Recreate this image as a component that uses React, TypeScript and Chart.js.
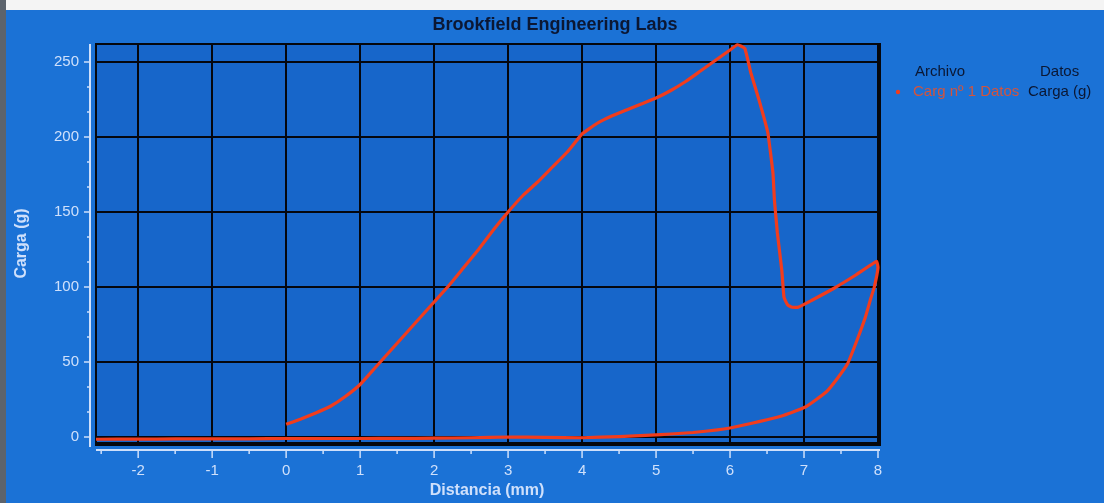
import React, { useEffect, useRef } from "react";
import { Chart, registerables } from "chart.js";

Chart.register(...registerables);

// Load (g) against probe travel (mm): compression up to 8 mm, then withdrawal back to the start.
const distancia: number[] = [
  0, 0.2, 0.4, 0.6, 0.8, 1.0, 1.2, 1.4, 1.6, 1.8,
  2.0, 2.2, 2.4, 2.6, 2.8, 3.0, 3.2, 3.4, 3.6, 3.8,
  4.0, 4.2, 4.4, 4.6, 4.8, 5.0, 5.2, 5.4, 5.6, 5.8,
  6.0, 6.1, 6.2, 6.28, 6.39, 6.51, 6.58, 6.6, 6.64, 6.7,
  6.73, 6.78, 6.84, 6.92, 7.1, 7.4, 7.7, 7.98,
  8.0, 7.95, 7.9, 7.83, 7.72, 7.59, 7.45, 7.3, 7.02, 6.73,
  6.5, 6.28, 6.0, 5.83, 5.5, 5.2, 4.93, 4.5, 4.0, 3.5,
  3.0, 2.5, 2.0, 1.5, 1.0, 0.5, 0, -0.5, -1.0, -1.5,
  -2.0, -2.57,
];

const carga: number[] = [
  8.5, 12, 16, 20.5, 27, 35, 46, 57, 68, 79,
  90, 101, 113, 125, 138, 150, 161, 170, 180, 190,
  202, 209, 214, 218, 222, 226, 231, 237, 244, 251,
  258, 261.5, 259, 243, 225, 203, 176, 158, 136, 111,
  93, 88, 86.5, 86.5, 91, 99, 108, 117,
  113, 100, 92, 80, 65, 49, 39, 30, 20, 14.5,
  11.5, 9, 6, 4.7, 3, 2, 1.3, 0.3, -0.5, -0.3,
  0, -0.5, -0.8, -0.9, -1, -1, -1, -1.2, -1.2, -1.3,
  -1.4, -1.5,
];

const xTicks: number[] = [-2, -1, 0, 1, 2, 3, 4, 5, 6, 7, 8];
const yTicks: number[] = [0, 50, 100, 150, 200, 250];

const titulo = "Brookfield Engineering Labs";
const tituloX = "Distancia (mm)";
const tituloY = "Carga (g)";
const leyendaArchivo = "Archivo";
const leyendaDatos = "Datos";
const serieArchivo = "Carg nº 1 Datos";
const serieDatos = "Carga (g)";

const W = 1098;
const H = 493;
const FONT = "'Liberation Sans', Arial, sans-serif";
const BG = "#1b72d6";
const PLOT_BG = "#1766ca";
const LIGHT = "#cfe0fb";
const DARK = "#0b1733";
const RED = "#f23c1c";
const GRID = "#05070d";

const decor = {
  id: "decor",
  beforeDraw(chart: any) {
    const { ctx, chartArea: a } = chart;
    ctx.save();
    ctx.fillStyle = BG;
    ctx.fillRect(0, 0, chart.width, chart.height);
    ctx.fillStyle = PLOT_BG;
    ctx.fillRect(a.left, a.top, a.right - a.left, a.bottom - a.top);
    ctx.restore();
  },
  beforeDatasetsDraw(chart: any) {
    const { ctx, chartArea: a } = chart;
    ctx.save();
    ctx.strokeStyle = GRID;
    // frame: thin top/left, heavier right/bottom
    ctx.lineWidth = 2;
    ctx.beginPath();
    ctx.moveTo(a.left, a.bottom);
    ctx.lineTo(a.left, a.top);
    ctx.lineTo(a.right, a.top);
    ctx.stroke();
    ctx.lineWidth = 4;
    ctx.beginPath();
    ctx.moveTo(a.left - 1, a.bottom + 1);
    ctx.lineTo(a.right + 1, a.bottom + 1);
    ctx.lineTo(a.right + 1, a.top - 1);
    ctx.stroke();
    ctx.restore();
  },
  afterDraw(chart: any) {
    const { ctx, chartArea: a } = chart;
    const xs = chart.scales.x;
    const ys = chart.scales.y;
    ctx.save();

    // detached light axis lines with major and minor ticks
    ctx.strokeStyle = LIGHT;
    ctx.lineWidth = 2;
    const yAxisX = a.left - 6;
    ctx.beginPath();
    ctx.moveTo(yAxisX, a.top);
    ctx.lineTo(yAxisX, a.bottom + 4);
    ctx.stroke();
    ctx.lineWidth = 1.5;
    yTicks.forEach((v, i) => {
      const p = ys.getPixelForValue(v);
      ctx.beginPath();
      ctx.moveTo(yAxisX - 6, p);
      ctx.lineTo(yAxisX, p);
      ctx.stroke();
      if (i < yTicks.length - 1) {
        const step = (yTicks[i + 1] - v) / 3;
        for (let k = 1; k < 3; k++) {
          const q = ys.getPixelForValue(v + step * k);
          ctx.beginPath();
          ctx.moveTo(yAxisX - 3, q);
          ctx.lineTo(yAxisX, q);
          ctx.stroke();
        }
      }
    });

    const xAxisY = a.bottom + 7;
    ctx.lineWidth = 2;
    ctx.beginPath();
    ctx.moveTo(a.left, xAxisY);
    ctx.lineTo(a.right + 2, xAxisY);
    ctx.stroke();
    ctx.lineWidth = 1.5;
    xTicks.forEach((v) => {
      const p = xs.getPixelForValue(v);
      ctx.beginPath();
      ctx.moveTo(p, xAxisY);
      ctx.lineTo(p, xAxisY + 8);
      ctx.stroke();
      const half = v - 0.5;
      if (half >= xs.min) {
        const q = xs.getPixelForValue(half);
        ctx.beginPath();
        ctx.moveTo(q, xAxisY);
        ctx.lineTo(q, xAxisY + 4);
        ctx.stroke();
      }
    });

    // titles
    ctx.textAlign = "center";
    ctx.textBaseline = "middle";
    ctx.fillStyle = DARK;
    ctx.font = `bold 18px ${FONT}`;
    ctx.fillText(titulo, chart.width / 2, 15);

    ctx.fillStyle = LIGHT;
    ctx.font = `bold 16px ${FONT}`;
    ctx.fillText(tituloX, (a.left + a.right) / 2, 481);
    ctx.save();
    ctx.translate(16, (a.top + a.bottom) / 2);
    ctx.rotate(-Math.PI / 2);
    ctx.fillText(tituloY, 0, 0);
    ctx.restore();

    // legend table
    ctx.textAlign = "left";
    ctx.font = `15px ${FONT}`;
    ctx.fillStyle = DARK;
    ctx.fillText(leyendaArchivo, 909, 62);
    ctx.fillText(leyendaDatos, 1034, 62);
    ctx.fillStyle = RED;
    ctx.beginPath();
    ctx.arc(892, 82, 2.2, 0, Math.PI * 2);
    ctx.fill();
    ctx.fillStyle = "#d4543c";
    ctx.fillText(serieArchivo, 907, 82);
    ctx.fillStyle = DARK;
    ctx.fillText(serieDatos, 1022, 82);

    ctx.restore();
  },
};

export default function App() {
  const ref = useRef<HTMLCanvasElement | null>(null);

  useEffect(() => {
    if (!ref.current) return;
    const points = distancia.map((x, i) => ({ x, y: carga[i] }));
    const chart = new Chart(ref.current, {
      type: "scatter",
      data: {
        datasets: [
          {
            label: serieDatos,
            data: points,
            showLine: true,
            borderColor: RED,
            backgroundColor: RED,
            borderWidth: 3.2,
            pointRadius: 0,
            tension: 0.12,
            clip: 4,
          } as any,
        ],
      },
      options: {
        animation: false,
        responsive: false,
        maintainAspectRatio: false,
        layout: { padding: { top: 34, right: 226, left: 0, bottom: 0 } },
        plugins: {
          legend: { display: false },
          title: { display: false },
          tooltip: { enabled: false },
        },
        scales: {
          x: {
            type: "linear",
            min: -2.57,
            max: 8,
            afterFit: (s: any) => {
              s.height = 60;
            },
            afterBuildTicks: (s: any) => {
              s.ticks = xTicks.map((v) => ({ value: v }));
            },
            ticks: {
              color: LIGHT,
              font: { family: FONT, size: 15 },
              padding: 19,
              maxRotation: 0,
              includeBounds: false,
            },
            grid: { color: GRID, lineWidth: 2, drawTicks: false },
            border: { display: false },
          },
          y: {
            type: "linear",
            min: -4,
            max: 262,
            afterFit: (s: any) => {
              s.width = 90;
            },
            afterBuildTicks: (s: any) => {
              s.ticks = yTicks.map((v) => ({ value: v }));
            },
            ticks: {
              color: LIGHT,
              font: { family: FONT, size: 15 },
              padding: 17,
              includeBounds: false,
            },
            grid: { color: GRID, lineWidth: 2, drawTicks: false },
            border: { display: false },
          },
        },
      },
      plugins: [decor],
    });
    return () => chart.destroy();
  }, []);

  return (
    <div style={{ position: "fixed", inset: 0, background: "#f4f4f4" }}>
      <div
        style={{
          position: "absolute",
          left: 0,
          top: 0,
          width: 6,
          height: "100%",
          background: "#5c636c",
        }}
      />
      <div style={{ position: "absolute", left: 6, top: 10, width: W, height: H }}>
        <canvas ref={ref} width={W} height={H} style={{ display: "block" }} />
      </div>
    </div>
  );
}
